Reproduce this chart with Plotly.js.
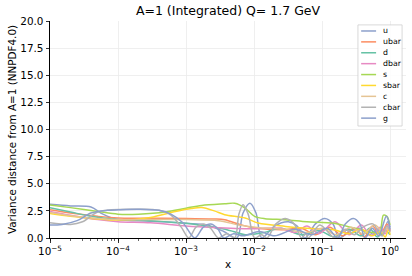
<!DOCTYPE html>
<html>
<head>
<meta charset="utf-8">
<script src="https://cdn.plot.ly/plotly-3.0.1.min.js"></script>
<style>html,body{margin:0;padding:0;background:#fff;}#chart{width:412px;height:276px;}</style>
</head>
<body>
<div id="chart"></div>
<script>
// ---- data ----
const seriesNames = ['u','ubar','d','dbar','s','sbar','c','cbar','g'];

const xU = [1e-5,2e-5,4e-5,6e-5,1e-4,3e-4,1e-3,2e-3,3.6e-3,5.6e-3,6.9e-3,8.7e-3,1.07e-2,1.3e-2,2e-2,3.2e-2,4.3e-2,5.6e-2,8e-2,0.11,0.145,0.178,0.25,0.35,0.5,0.65,0.78,0.92,1.0];
const yU = [3.1,2.95,2.85,2.2,1.7,1.55,1.35,1.2,0.6,0,2.3,3.2,2.3,0,1.1,1.5,1.1,0,1.3,1.8,1.3,0,0.6,0.9,0.3,0.8,0.2,1.5,1.0];

const xUbar = [1e-5,2e-5,5e-5,1e-4,1e-3,2.5e-3,3.7e-3,6.3e-3,1.05e-2,2.9e-2,5e-2,8e-2,0.13,0.2,0.3,0.42,0.55,0.72,0.9,1.0];
const yUbar = [2.6,2.3,2.0,1.85,1.8,1.75,1.69,1.23,0.92,0.77,0.9,0.3,1.0,0.2,0.9,0.1,1.1,0.3,1.3,0.7];

const xD = [1e-5,2e-5,4e-5,1e-4,3e-4,8e-4,1.6e-3,3.2e-3,5e-3,7.4e-3,1.4e-2,2.5e-2,5e-2,9e-2,0.15,0.25,0.38,0.5,0.65,0.85,1.0];
const yD = [2.8,2.4,2.0,1.7,1.6,1.4,1.2,0.9,0.6,0.3,0.5,0.9,0.3,0.7,0.1,0.8,0.2,0.9,0.1,0.7,0.3];

const xDbar = [1e-5,2e-5,5e-5,1e-4,3e-4,1e-3,3e-3,1e-2,2.5e-2,4e-2,6e-2,9e-2,0.155,0.25,0.38,0.52,0.72,0.85,0.95,1.0];
const yDbar = [2.45,2.1,1.7,1.5,1.4,1.1,0.95,0.85,0.9,0.5,1.1,0.4,1.5,0.3,1.2,0.2,1.0,0.4,1.2,0.6];

const xS = [1e-5,2e-5,5e-5,1e-4,2e-4,5e-4,1e-3,1.7e-3,3.7e-3,5.2e-3,7.4e-3,1.02e-2,1.45e-2,2.9e-2,6e-2,0.15,0.3,0.55,0.7,0.8,0.9,1.0];
const yS = [3.05,2.8,2.45,2.2,2.2,2.4,2.75,3.0,3.15,3.2,2.76,2.0,1.78,1.69,1.5,1.35,0.9,0.5,0.5,2.1,2.0,1.2];

const xSbar = [1e-5,2e-5,5e-5,1e-4,3e-4,7e-4,1.2e-3,1.7e-3,2.6e-3,3.7e-3,7.4e-3,1.15e-2,2.9e-2,6e-2,0.15,0.25,0.38,0.55,0.72,0.85,0.95,1.0];
const ySbar = [2.25,2.0,1.75,1.65,1.9,2.45,2.72,2.8,2.5,2.15,1.84,1.38,1.07,0.9,0.75,0.4,0.8,0.2,0.6,0.1,0.8,0.3];

const xC = [1e-5,2e-5,5e-5,1e-4,1e-3,3e-3,6e-3,1.2e-2,3e-2,6e-2,0.1,0.16,0.27,0.4,0.6,0.8,0.93,1.0];
const yC = [2.35,2.05,1.8,1.7,1.7,1.6,1.2,0.95,0.8,0.5,0.9,0.3,1.0,0.4,1.2,0.5,1.0,0.6];

const xCbar = [1e-5,2e-5,3e-5,5e-5,8e-5,2e-4,4e-4,6e-4,8.5e-4,1.1e-3,1.4e-3,1.8e-3,2.3e-3,3e-3,4e-3,5.2e-3,6e-3,6.9e-3,8.2e-3,1.02e-2,1.3e-2,1.55e-2,2.1e-2,2.9e-2,3.9e-2,5e-2,5.8e-2,6.3e-2,9.3e-2,0.155,0.22,0.3,0.4,0.56,0.75,0.9,1.0];
const yCbar = [1.4,1.25,1.5,2.4,2.6,2.65,2.55,2.1,1.0,0,1.0,1.3,0.9,0,0.4,0,2.2,3.07,2.2,0,0.3,0,1.3,1.8,1.3,0,0.4,0,1.2,0,0.8,0.3,1.0,1.3,0.2,1.1,0.6];

const xG = [1e-5,1.5e-5,2.5e-5,4e-5,7e-5,1e-4,2e-4,4e-4,6e-4,9e-4,1.35e-3,1.8e-3,2.3e-3,2.9e-3,3.6e-3,5e-3,7e-3,1.2e-2,2e-2,4e-2,7e-2,0.12,0.17,0.22,0.29,0.36,0.43,0.55,0.68,0.88,0.95,1.0];
const yG = [1.2,1.25,1.6,2.3,2.55,2.6,2.65,2.55,2.2,1.4,0,1.0,1.3,0.9,0,0.4,0.2,0.6,0.2,0.8,0.3,0.9,0,1.3,1.8,1.3,0,0.9,0.2,2.0,1.6,0.8];

const seriesX = [xU,xUbar,xD,xDbar,xS,xSbar,xC,xCbar,xG];
const seriesY = [yU,yUbar,yD,yDbar,yS,ySbar,yC,yCbar,yG];

const xTickVals = [1e-5,1e-4,1e-3,1e-2,1e-1,1];
const xTickText = ['10<sup>−5</sup>','10<sup>−4</sup>','10<sup>−3</sup>','10<sup>−2</sup>','10<sup>−1</sup>','10<sup>0</sup>'];

// ---- styles ----
const colors = ['#8da0cb','#fc8d62','#66c2a5','#e78ac3','#a6d854','#ffd92f','#e5c494','#b3b3b3','#8da0cb'];
const FONT = 'DejaVu Sans, sans-serif';

const traces = seriesNames.map((n,i)=>({
  type:'scatter', mode:'lines', name:n,
  x:seriesX[i], y:seriesY[i],
  line:{color:colors[i], width:1.5, shape:'spline', smoothing:0.9},
  showlegend:false, hoverinfo:'skip'
}));

// manual legend (matplotlib-like compact legend)
const lgX0 = 0.865, lgX1 = 0.989, lgY1 = 0.982, lgY0 = 0.516;
const lgTop = 0.954, lgStep = 0.0502;
const shapes = [{type:'rect', xref:'paper', yref:'paper', x0:lgX0, x1:lgX1, y0:lgY0, y1:lgY1,
  fillcolor:'rgba(255,255,255,0.85)', line:{color:'#cfcfcf', width:0.8}, layer:'above'}];
const annotations = [];
seriesNames.forEach((n,i)=>{
  const yy = lgTop - i*lgStep;
  shapes.push({type:'line', xref:'paper', yref:'paper', x0:0.874, x1:0.916, y0:yy, y1:yy,
    line:{color:colors[i], width:1.5}, layer:'above'});
  annotations.push({xref:'paper', yref:'paper', x:0.930, y:yy, text:n, showarrow:false,
    xanchor:'left', yanchor:'middle', font:{family:FONT, size:7.8, color:'#000'}});
});

const layout = {
  width:412, height:276,
  margin:{l:50, r:6, t:21, b:38, pad:0},
  paper_bgcolor:'#fff', plot_bgcolor:'#fff',
  font:{family:FONT, size:10.4, color:'#000'},
  title:{text:'A=1 (Integrated) Q= 1.7 GeV', font:{family:FONT, size:12.5, color:'#000'},
    x:0.5, xref:'paper', y:0.96, yref:'container', yanchor:'middle'},
  xaxis:{type:'log', range:[-5, 0.235], tickvals:xTickVals, ticktext:xTickText,
    showgrid:true, gridcolor:'#ebebeb', gridwidth:0.8, zeroline:false,
    showline:true, linecolor:'#000', linewidth:1, mirror:false,
    ticks:'outside', ticklen:3.5, tickwidth:0.8, tickcolor:'#000',
    tickfont:{family:FONT, size:10.4, color:'#000'},
    minor:{ticks:'outside', ticklen:2, tickwidth:0.6, tickcolor:'#000', dtick:'D1', showgrid:false},
    title:{text:'x', font:{family:FONT, size:10.4, color:'#000'}, standoff:4}},
  yaxis:{range:[0,20], dtick:2.5, tick0:0, tickformat:'.1f',
    showgrid:true, gridcolor:'#ebebeb', gridwidth:0.8, zeroline:false,
    showline:true, linecolor:'#000', linewidth:1, mirror:false,
    ticks:'outside', ticklen:3.5, tickwidth:0.8, tickcolor:'#000',
    tickfont:{family:FONT, size:10.4, color:'#000'},
    title:{text:'Variance distance from A=1 (NNPDF4.0)', font:{family:FONT, size:10.4, color:'#000'}, standoff:1}},
  shapes:shapes, annotations:annotations,
  showlegend:false
};

Plotly.newPlot('chart', traces, layout, {staticPlot:true, displayModeBar:false});
</script>
</body>
</html>
